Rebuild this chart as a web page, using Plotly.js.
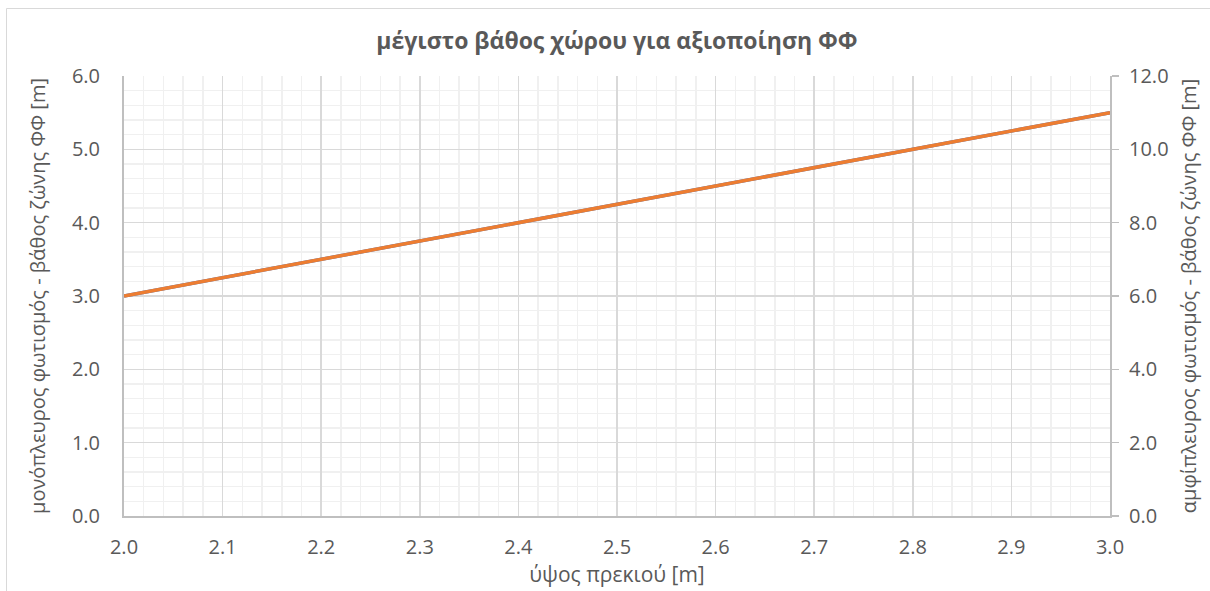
<!DOCTYPE html>
<html><head><meta charset="utf-8">
<script src="https://cdn.plot.ly/plotly-3.0.1.min.js"></script>
<style>html,body{margin:0;padding:0;background:#fff;overflow:hidden}#chart{width:1210px;height:591px}</style>
</head><body><div id="chart"></div>
<script>
const lintelHeight = [2.0, 2.1, 2.2, 2.3, 2.4, 2.5, 2.6, 2.7, 2.8, 2.9, 3.0];
const singleSideDepth = [3.0, 3.25, 3.5, 3.75, 4.0, 4.25, 4.5, 4.75, 5.0, 5.25, 5.5];
const doubleSideDepth = [6.0, 6.5, 7.0, 7.5, 8.0, 8.5, 9.0, 9.5, 10.0, 10.5, 11.0];

const titleText = 'μέγιστο βάθος χώρου για αξιοποίηση ΦΦ';
const xTitle = 'ύψος πρεκιού [m]';
const yTitle = 'μονόπλευρος φωτισμός - βάθος ζώνης ΦΦ [m]';
const y2Title = 'αμφίπλευρος φωτισμός - βάθος ζώνης ΦΦ [m]';

const FONT = 'Open Sans, Liberation Sans, sans-serif';
const TXT = '#595959';
const TICKSIZE = 20, AXTSIZE = 20;

const traces = [
  {x: lintelHeight, y: singleSideDepth, type: 'scatter', mode: 'lines',
   line: {color: '#4472C4', width: 3.5}, yaxis: 'y', name: 'μονόπλευρος'},
  {x: lintelHeight, y: doubleSideDepth, type: 'scatter', mode: 'lines',
   line: {color: '#ED7D31', width: 3.5}, yaxis: 'y2', name: 'αμφίπλευρος'}
];

const gridMajor = '#d9d9d9', gridMinor = '#f0f0f0';
const layout = {
  width: 1210, height: 591,
  margin: {l: 124, r: 100, t: 76, b: 75},
  paper_bgcolor: '#fff', plot_bgcolor: '#fff',
  showlegend: false,
  font: {family: FONT, color: TXT, size: TICKSIZE},
  title: {text: '<b>' + titleText + '</b>', x: 0.5, xref: 'paper', y: 1, yref: 'container', yanchor: 'top', pad: {t: 33},
          font: {family: FONT, size: 23, color: TXT}},
  xaxis: {range: [2.0, 3.0], dtick: 0.1, tick0: 2.0, tickformat: '.1f',
          showgrid: true, gridcolor: gridMajor, gridwidth: 1.5,
          minor: {dtick: 0.02, tick0: 2.0, showgrid: true, gridcolor: gridMinor, gridwidth: 1.5},
          showline: true, linecolor: '#bfbfbf', linewidth: 2, ticks: '', zeroline: false,
          ticklabelstandoff: 12, tickfont: {size: TICKSIZE, color: TXT},
          title: {text: xTitle, standoff: 6, font: {size: 21, color: TXT}}},
  yaxis: {range: [0, 6], dtick: 1, tickformat: '.1f',
          showgrid: true, gridcolor: gridMajor, gridwidth: 1.5,
          minor: {dtick: 0.2, showgrid: true, gridcolor: gridMinor, gridwidth: 1.5},
          showline: true, linecolor: '#bfbfbf', linewidth: 2, ticks: '', zeroline: false,
          ticklabelstandoff: 18, tickfont: {size: TICKSIZE, color: TXT},
          title: {text: yTitle, standoff: 21, font: {size: AXTSIZE, color: TXT}}},
  yaxis2: {range: [0, 12], dtick: 2, tickformat: '.1f', overlaying: 'y', side: 'right',
           showgrid: false, zeroline: false, showline: true, linecolor: '#bfbfbf', linewidth: 2,
           ticks: 'outside', ticklen: 7, tickcolor: '#bfbfbf', tickwidth: 1.5,
           ticklabelstandoff: 6, tickfont: {size: TICKSIZE, color: TXT},
           title: {text: y2Title, standoff: 14, font: {size: AXTSIZE, color: TXT}}},
  shapes: [
    {type: 'line', xref: 'paper', yref: 'paper',
     x0: (6.5 - 124) / 986, x1: (6.5 - 124) / 986, y0: (516 - 600) / 440, y1: (516 - 8.5) / 440,
     line: {color: '#d9d9d9', width: 1}, layer: 'below'},
    {type: 'line', xref: 'paper', yref: 'paper',
     x0: (6.5 - 124) / 986, x1: (1215 - 124) / 986, y0: (516 - 8.5) / 440, y1: (516 - 8.5) / 440,
     line: {color: '#d9d9d9', width: 1}, layer: 'below'}
  ]
};

Plotly.newPlot('chart', traces, layout, {displayModeBar: false, staticPlot: true});
</script></body></html>
